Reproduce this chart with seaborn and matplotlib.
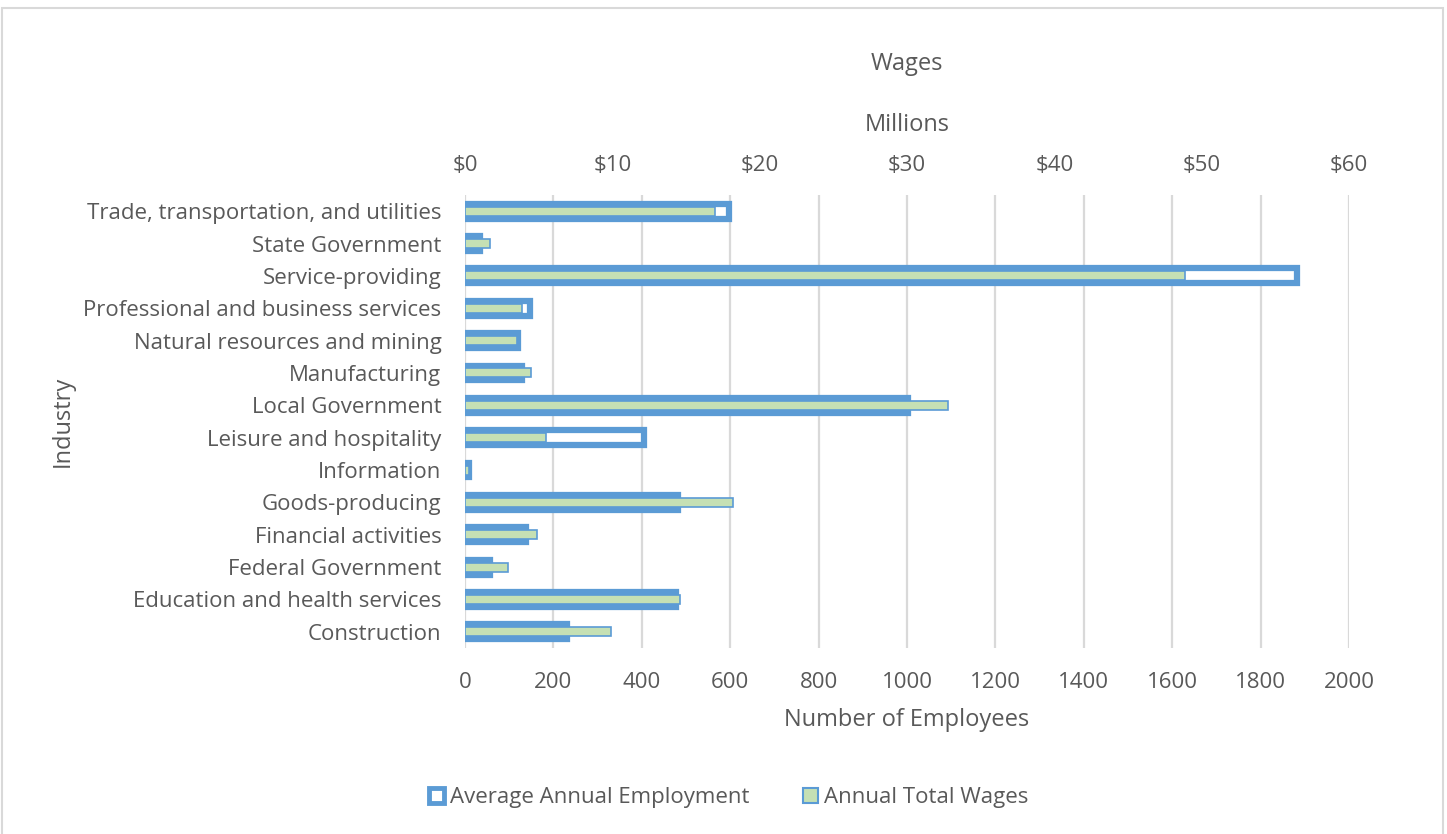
import seaborn as sns
import matplotlib.pyplot as plt
import pandas as pd
from matplotlib.patches import Rectangle

# Data
industries = [
    "Trade, transportation, and utilities",
    "State Government",
    "Service-providing",
    "Professional and business services",
    "Natural resources and mining",
    "Manufacturing",
    "Local Government",
    "Leisure and hospitality",
    "Information",
    "Goods-producing",
    "Financial activities",
    "Federal Government",
    "Education and health services",
    "Construction",
]
employment = [598, 35, 1882, 147, 120, 129, 1002, 405, 8, 483, 139, 57, 477, 231]
wages_millions = [17.0, 1.7, 48.9, 3.9, 3.5, 4.5, 32.8, 5.5, 0.25, 18.2, 4.9, 2.9, 14.6, 9.9]
top_ticks = [0, 10, 20, 30, 40, 50, 60]
bottom_ticks = [0, 200, 400, 600, 800, 1000, 1200, 1400, 1600, 1800, 2000]

df = pd.DataFrame({"Industry": industries,
                   "Employment": employment,
                   "Wages": wages_millions})

sns.set_style("white")
plt.rcParams["font.family"] = ["Open Sans", "DejaVu Sans"]
txt = "#595959"
blue = "#5B9BD5"
green = "#C5E0B4"
fs = 16

fig = plt.figure(figsize=(14.47, 8.34), dpi=100)
ax = fig.add_axes([465 / 1447, 1 - 648 / 834, 884 / 1447, 453 / 834])

# Employment bars (bottom axis)
sns.barplot(data=df, y="Industry", x="Employment", orient="h", ax=ax,
            color="white", edgecolor=blue, linewidth=4.5, width=0.46,
            order=industries, saturation=1)
ax.set_xlim(0, 2000)
ax.set_xticks(bottom_ticks)
ax.grid(axis="x", color="#D9D9D9", linewidth=1.6)
ax.set_axisbelow(True)
for s in ax.spines.values():
    s.set_visible(False)
ax.tick_params(axis="x", length=0, labelsize=fs, labelcolor=txt, pad=17)
ax.tick_params(axis="y", length=0, labelsize=fs, labelcolor=txt, pad=17)
ax.set_xlabel("Number of Employees", fontsize=fs + 1, color=txt, labelpad=11)
ax.set_ylabel("Industry", fontsize=fs + 1, color=txt, labelpad=6)

# Wages bars (top axis)
ax2 = ax.twiny()
sns.barplot(data=df, y="Industry", x="Wages", orient="h", ax=ax2,
            color=green, edgecolor=blue, linewidth=1.2, width=0.28,
            order=industries, saturation=1)
ax2.set_xlim(0, 60)
ax2.set_xticks(top_ticks)
ax2.set_xticklabels([f"${t}" for t in top_ticks])
for s in ax2.spines.values():
    s.set_visible(False)
ax2.tick_params(axis="x", length=0, labelsize=fs, labelcolor=txt, pad=14)
ax2.set_xlabel("Millions", fontsize=fs + 1, color=txt, labelpad=17)
ax2.set_ylabel("")
ax.set_ylim(len(industries) - 0.5, -0.5)

fig.text(907 / 1447, 1 - 64 / 834, "Wages", ha="center", va="center",
         fontsize=fs + 1, color=txt)

# Legend
handles = [Rectangle((0, 0), 1, 1, facecolor="white", edgecolor=blue, linewidth=3.5),
           Rectangle((0, 0), 1, 1, facecolor=green, edgecolor=blue, linewidth=1.5)]
fig.legend(handles, ["Average Annual Employment", "Annual Total Wages"],
           loc="center", bbox_to_anchor=(729 / 1447, 1 - 798 / 834), ncol=2,
           frameon=False, fontsize=fs, labelcolor=txt, handlelength=0.65,
           handleheight=0.65, handletextpad=0.3, columnspacing=2.4)

# Outer frame
fig.patches.append(Rectangle((2 / 1447, -0.01), 1441 / 1447, 1.01 - 8 / 834,
                             transform=fig.transFigure, fill=False,
                             edgecolor="#D9D9D9", linewidth=1.5))

fig.savefig("out.png", dpi=100)
